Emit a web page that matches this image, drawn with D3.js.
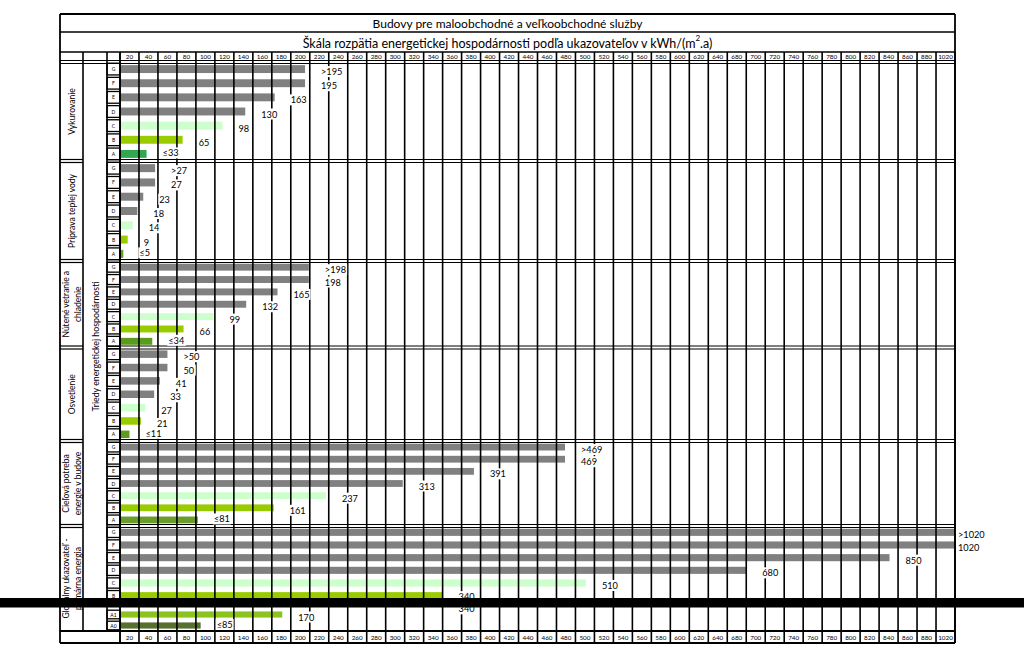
<!DOCTYPE html>
<html lang="sk">
<head>
<meta charset="UTF-8">
<title>Budovy pre maloobchodné a veľkoobchodné služby</title>
<style>
  body { margin: 0; background: #fff; font-family: Lato, "Open Sans", sans-serif; }
  svg text { fill: #000; }
</style>
</head>
<body>
<div id="chart"></div>
<script src="https://d3js.org/d3.v7.min.js"></script>
<script>
// ---- data ----
const title = "Budovy pre maloobchodné a veľkoobchodné služby";
const subtitle = "Škála rozpätia energetickej hospodárnosti podľa ukazovateľov v kWh/(m";
const classTitle = "Triedy energetickej hospodárnosti";

const tickLabels = [20, 40, 60, 80, 100, 120, 140, 160, 180, 200, 220, 240, 260, 280, 300, 320,
  340, 360, 380, 400, 420, 440, 460, 480, 500, 520, 540, 560, 580, 600, 620, 640,
  680, 700, 720, 740, 760, 780, 800, 820, 840, 860, 880, 1020];

const classes = ["G", "F", "E", "D", "C", "B", "A"];
const globalClasses = ["G", "F", "E", "D", "C", "B", "A1", "A0"];

const sectionTitles = [
  ["Vykurovanie"],
  ["Príprava teplej vody"],
  ["Nútené vetranie a", "chladenie"],
  ["Osvetlenie"],
  ["Cieľová potreba", "energie v budove"],
  ["Globálny ukazovateľ -", "primárna energia"]
];

const heatingBars = [195, 195, 163, 132, 108, 66, 28];
const heatingLabels = [">195", "195", "163", "130", "98", "65", "≤33"];

const hotWaterBars = [37, 37, 24.5, 18.3, 13.4, 8.1, 3.5];
const hotWaterLabels = [">27", "27", "23", "18", "14", "9", "≤5"];

const ventBars = [199, 199, 166, 133, 98.5, 67, 34];
const ventLabels = [">198", "198", "165", "132", "99", "66", "≤34"];

const lightBars = [50, 50, 42, 36, 26.5, 22, 10];
const lightLabels = [">50", "50", "41", "33", "27", "21", "≤11"];

const targetBars = [469, 469, 373, 298, 217, 162, 82];
const targetLabels = [">469", "469", "391", "313", "237", "161", "≤81"];

const globalBars = [1020, 1020, 831, 680, 491, 340, 171, 85];
const globalLabels = [">1020", "1020", "850", "680", "510", "340", "170", "≤85"];
const hiddenLabel = "340";   // second "340", mostly under the black strip

// ---- layout ----
const width = 1024, height = 656;
const left = 60, c1 = 83, c2 = 107, x0 = 120, right = 955;
const colW = (right - x0) / tickLabels.length;
const bounds = [62, 161, 261, 347.5, 441, 526, 631];
const bottom = 643;

const grey = "#808080";
const aColors = ["#2fa84f", "#5fa31f", "#5a9a1c", "#5e9c1f", "#6b9b2a"];
function barColor(cls, s) {
  if (cls === "C") return "#ccffcc";
  if (cls === "B") return "#99cc00";
  if (cls === "A") return aColors[s];
  if (cls === "A1") return "#8dc31e";
  if (cls === "A0") return "#58702f";
  return grey;
}

const svg = d3.select("#chart").append("svg")
  .attr("width", width)
  .attr("height", height);

// polylinear scale: each column is one tick step, whatever the label jump
const x = d3.scaleLinear()
  .domain([0, ...tickLabels])
  .range([0, ...tickLabels].map((d, i) => x0 + i * colW));

const sections = [
  { cls: classes, bars: heatingBars, labels: heatingLabels },
  { cls: classes, bars: hotWaterBars, labels: hotWaterLabels },
  { cls: classes, bars: ventBars, labels: ventLabels },
  { cls: classes, bars: lightBars, labels: lightLabels },
  { cls: classes, bars: targetBars, labels: targetLabels },
  { cls: globalClasses, bars: globalBars, labels: globalLabels }
];

// row scales per section (last one is split by the strip)
sections.forEach((s, i) => {
  if (i < 5) {
    const y = d3.scaleBand().domain(classes).range([bounds[i], bounds[i + 1]]);
    s.row = c => ({ y: y(c), h: y.bandwidth() });
  } else {
    const up = d3.scaleBand().domain(globalClasses.slice(0, 6)).range([526, 602]);
    const lo = d3.scaleBand().domain(globalClasses.slice(6)).range([609, 631]);
    s.row = c => up.domain().includes(c) ? { y: up(c), h: up.bandwidth() } : { y: lo(c), h: lo.bandwidth() };
  }
});

// ---- bars ----
sections.forEach((s, si) => {
  svg.append("g").selectAll("rect.bar")
    .data(s.cls)
    .join("rect")
    .attr("class", "bar")
    .attr("x", x(0))
    .attr("y", c => s.row(c).y + s.row(c).h * 0.22)
    .attr("height", c => s.row(c).h * 0.56)
    .attr("width", (c, i) => x(s.bars[i]) - x(0))
    .attr("fill", c => barColor(c, si));
});

// ---- grid ----
const lines = svg.append("g").attr("stroke", "#000").attr("fill", "none");
const line = (x1, y1, x2, y2, w) => lines.append("line")
  .attr("x1", x1).attr("y1", y1).attr("x2", x2).attr("y2", y2)
  .attr("stroke-width", w || 1.6);

// title box
line(left, 14, right, 14, 1.8);
line(left, 32, right, 32, 1.5);
line(left, 52, right, 52, 1.5);
line(left, 14, left, bottom, 1.8);
line(right, 14, right, bottom, 1.8);

// column lines
d3.range(tickLabels.length + 1).forEach(i => line(x0 + i * colW, 52, x0 + i * colW, bottom, i === 0 ? 1.9 : 1.6));
line(c1, 52, c1, bounds[6], 1.6);
line(c2, 52, c2, bounds[6], 1.6);

// section separators (double), the class column is one merged cell
bounds.slice(0, 6).forEach((b, i) => {
  [-1.5, 1.5].forEach(d => {
    if (i === 0) line(left, b + d, right, b + d, 1.2);
    else {
      line(left, b + d, c1, b + d, 1.2);
      line(c2, b + d, right, b + d, 1.2);
    }
  });
});
line(left, bounds[6], right, bounds[6], 2);
line(left, bottom, right, bottom, 1.8);

// class letter boxes
sections.forEach(s => {
  s.cls.forEach(c => {
    const r = s.row(c);
    lines.append("rect")
      .attr("x", c2).attr("y", r.y + 1.2)
      .attr("width", x0 - c2).attr("height", r.h - 2.4)
      .attr("stroke-width", 1.3);
    svg.append("text")
      .attr("x", (c2 + x0) / 2).attr("y", r.y + r.h / 2)
      .attr("text-anchor", "middle").attr("dominant-baseline", "central")
      .attr("font-size", 5).text(c);
  });
});

// ---- tick labels (top and bottom rows) ----
[56.5, 637].forEach(yy => {
  svg.append("g").selectAll("text")
    .data(tickLabels)
    .join("text")
    .attr("x", (d, i) => x0 + (i + 0.5) * colW)
    .attr("y", yy)
    .attr("text-anchor", "middle")
    .attr("dominant-baseline", "central")
    .attr("font-size", 6.3)
    .text(d => d);
});

// ---- value labels with white boxes ----
function valueLabel(tx, ty, txt) {
  const g = svg.append("g");
  const t = g.append("text")
    .attr("x", tx).attr("y", ty)
    .attr("dominant-baseline", "central")
    .attr("font-size", 9.2)
    .text(txt);
  const bb = t.node().getBBox();
  g.insert("rect", "text")
    .attr("x", bb.x - 1).attr("y", bb.y)
    .attr("width", bb.width + 2).attr("height", bb.height)
    .attr("fill", "#fff");
}
sections.forEach((s, si) => {
  s.cls.forEach((c, i) => {
    const r = s.row(c);
    const last = i === s.cls.length - 1;
    let dy = last ? -1 : 2.5;
    if (si === 5 && c === "B") dy = 1;   // sits right on the strip
    const tx = Math.min(x(s.bars[i]) + 16, right + 3);
    valueLabel(tx, r.y + r.h / 2 + dy, s.labels[i]);
  });
});
valueLabel(x(globalBars[5]) + 16, 608.8, hiddenLabel);

// ---- rotated texts ----
sectionTitles.forEach((t, i) => {
  const cy = (bounds[i] + bounds[i + 1]) / 2;
  const xs = t.length === 1 ? [72] : [66, 77.5];
  t.forEach((ln, j) => {
    svg.append("text")
      .attr("transform", `translate(${xs[j]},${cy}) rotate(-90)`)
      .attr("text-anchor", "middle")
      .attr("dominant-baseline", "central")
      .attr("font-size", 8.5)
      .text(ln);
  });
});
svg.append("text")
  .attr("transform", `translate(${(c1 + c2) / 2 + 1},${(bounds[0] + bounds[6]) / 2}) rotate(-90)`)
  .attr("text-anchor", "middle")
  .attr("dominant-baseline", "central")
  .attr("font-size", 8.5)
  .attr("textLength", 130)
  .attr("lengthAdjust", "spacingAndGlyphs")
  .text(classTitle);

// ---- titles ----
const mid = (left + right) / 2;
svg.append("text")
  .attr("x", mid).attr("y", 23.5)
  .attr("text-anchor", "middle").attr("dominant-baseline", "central")
  .attr("font-size", 12)
  .text(title);
const sub = svg.append("text")
  .attr("x", mid).attr("y", 42.5)
  .attr("text-anchor", "middle").attr("dominant-baseline", "central")
  .attr("font-size", 12.5);
sub.append("tspan").text(subtitle);
sub.append("tspan").attr("font-size", 8).attr("dy", -5).text("2");
sub.append("tspan").attr("dy", 5).text(".a)");

// black strip across the scan
svg.append("rect")
  .attr("x", 0).attr("y", 598)
  .attr("width", width).attr("height", 9.5)
  .attr("fill", "#000");
</script>
</body>
</html>
